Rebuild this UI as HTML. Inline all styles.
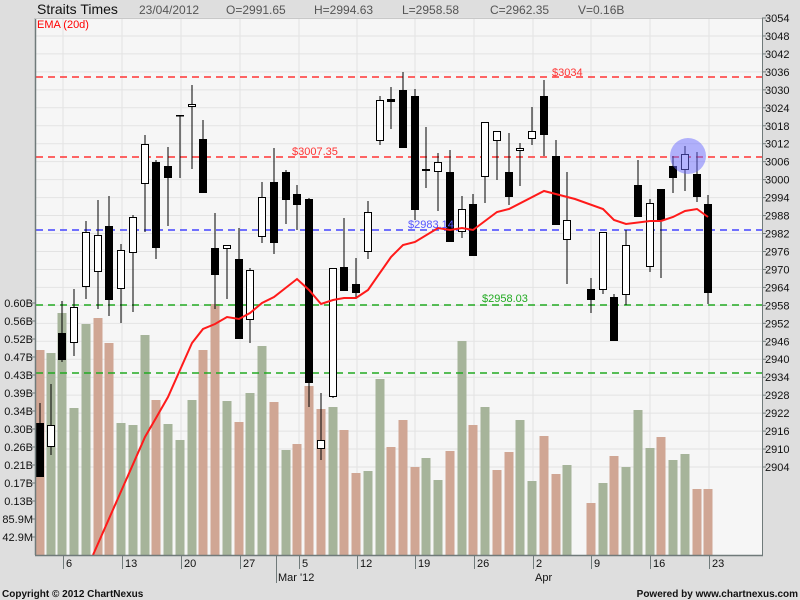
<!DOCTYPE html>
<html><head><meta charset="utf-8">
<style>
html,body{margin:0;padding:0;background:#dedede;}
svg{display:block;font-family:"Liberation Sans",sans-serif;}
</style></head><body>
<svg width="800" height="600" viewBox="0 0 800 600" xmlns="http://www.w3.org/2000/svg">
<rect x="0" y="0" width="800" height="600" fill="#dedede"/>
<rect x="35" y="18" width="727" height="537" fill="#f6f6f6"/>
<g id="grid" stroke="#e3e3e3" stroke-width="1"></g>
<g id="vol"></g>
<g id="hl"></g>
<g id="candles"></g>
<polyline id="ema" fill="none" stroke="#ff1a1a" stroke-width="2" points="93,555 145,437 156,418 168,397 192,343 203,329 215,324 227,317 239,319 250,313 262,303 274,297 297,279 309,290 321,304 333,300 344,298 356,298 368,290 391,257 403,245 415,242 438,228 450,230 462,228 473,230 497,212 509,209 544,191 575,199 603,209 614,220 626,224 650,221 661,221 673,217 685,211 697,209 708,217"/>
<circle cx="688" cy="156" r="18" fill="#6a6aff" fill-opacity="0.5"/>
<line x1="35.5" y1="18" x2="35.5" y2="555" stroke="#707a7a" stroke-width="1.5"/>
<line x1="762.5" y1="18" x2="762.5" y2="555" stroke="#707a7a" stroke-width="1"/>
<line x1="35" y1="555.5" x2="763" y2="555.5" stroke="#707a7a" stroke-width="1.5"/>
<line x1="35" y1="18.5" x2="762" y2="18.5" stroke="#c8c8c8" stroke-width="1"/>
<g id="ticks" stroke="#707a7a" stroke-width="1"></g>
<g id="labels" font-size="11" fill="#111"></g>
<text x="37" y="14" font-size="14" fill="#111">Straits Times</text>
<g font-size="12" fill="#555">
<text x="139" y="14">23/04/2012</text>
<text x="226" y="14">O=2991.65</text>
<text x="314" y="14">H=2994.63</text>
<text x="402" y="14">L=2958.58</text>
<text x="490" y="14">C=2962.35</text>
<text x="578" y="14">V=0.16B</text>
</g>
<text x="37" y="28" font-size="11" fill="#ff0000">EMA (20d)</text>
<g font-size="11">
<text x="552" y="76" fill="#ff3333">$3034</text>
<text x="292" y="155" fill="#ff3333">$3007.35</text>
<text x="408" y="228" fill="#5555ff">$2983.14</text>
<text x="482" y="302" fill="#22aa22">$2958.03</text>
</g>
<text x="2" y="597" font-size="10" font-weight="bold" fill="#111">Copyright © 2012 ChartNexus</text>
<text x="798" y="597" font-size="10" font-weight="bold" fill="#111" text-anchor="end">Powered by www.chartnexus.com</text>
</svg>
<script>
(function(){
var NS="http://www.w3.org/2000/svg";
function el(p,t,a,txt){var e=document.createElementNS(NS,t);for(var k in a)e.setAttribute(k,a[k]);if(txt!==undefined)e.textContent=txt;document.getElementById(p).appendChild(e);return e;}
// grid
for(var k=0;k<=25;k++){var y=18+k*17.96;el("grid","line",{x1:36,x2:762,y1:y,y2:y});}
[63,122,181,240,299,357,415,474,533,591,650,709].forEach(function(x){el("grid","line",{x1:x,x2:x,y1:18,y2:555});});
// volume
var G="#a6b49a",B="#d0a694";
var vol=[[40,350,B],[51,353,G],[62,313,G],[74,408,G],[86,324,G],[98,318,B],[109,343,B],[121,423,G],[133,425,G],[145,335,G],[156,400,B],[168,424,G],[180,440,G],[192,400,G],[203,350,B],[215,304,B],[227,401,G],[239,422,B],[250,393,G],[262,346,G],[274,402,B],[286,450,G],[297,444,B],[309,386,B],[321,409,B],[333,407,G],[344,430,B],[356,473,B],[368,471,G],[380,379,G],[391,447,B],[403,420,B],[415,467,B],[426,458,G],[438,480,G],[450,451,B],[462,341,G],[473,425,B],[485,407,G],[497,470,B],[509,452,B],[520,420,G],[532,481,G],[544,436,B],[556,474,B],[567,465,G],[591,503,B],[603,483,G],[614,456,B],[626,467,G],[638,410,G],[650,448,G],[661,437,B],[673,460,G],[685,454,G],[697,489,B],[708,489,B]];
vol.forEach(function(v){el("vol","rect",{x:v[0]-4.5,y:v[1],width:9,height:555-v[1],fill:v[2]});});
// horizontal lines
[[77,"#ff3333"],[157,"#ff3333"],[230,"#4444ff"],[305,"#22aa22"],[373,"#22aa22"]].forEach(function(h){el("hl","line",{x1:36,x2:762,y1:h[0],y2:h[0],stroke:h[1],"stroke-width":1.5,"stroke-dasharray":"7,5"});});
// candles [x, wickTop, wickBot, bodyTop, bodyBot, black?]
var c=[[40,403,477,423,477,1],[51,384,455,425,447,0],[62,301,362,333,360,1],[74,289,356,307,343,0],[86,221,299,232,287,0],[98,200,309,235,272,0],[109,196,316,226,300,1],[121,244,323,250,289,0],[133,215,312,217,253,0],[145,135,232,144,184,0],[156,160,259,162,248,1],[168,147,226,166,178,1],[180,115,178,115,116,1],[192,85,169,104,107,0],[203,120,193,139,193,1],[215,213,309,248,275,1],[227,245,299,245,249,0],[239,228,339,259,339,1],[250,268,343,270,320,0],[262,182,243,197,237,0],[274,148,254,182,243,1],[286,170,224,172,200,1],[297,185,230,194,205,1],[309,198,407,199,383,1],[321,393,460,440,449,0],[333,268,398,268,397,0],[344,218,291,267,291,1],[356,258,299,284,293,1],[368,201,259,212,252,0],[380,96,145,100,141,0],[391,87,129,99,102,1],[403,72,148,90,148,1],[415,89,220,96,210,1],[426,127,188,169,171,1],[438,153,211,162,172,0],[450,150,242,172,242,1],[462,196,238,209,232,0],[473,194,256,204,256,1],[485,122,203,122,177,0],[497,131,180,131,141,0],[509,133,205,172,197,1],[520,143,186,148,151,0],[532,107,145,131,139,0],[544,80,156,96,135,1],[556,140,225,156,225,1],[567,172,284,220,240,0],[591,278,313,289,300,1],[603,232,294,232,290,0],[614,294,341,297,341,1],[626,230,305,245,295,0],[638,160,217,185,217,1],[650,199,272,203,267,0],[661,189,278,189,220,1],[673,156,193,166,178,1],[685,146,191,154,170,0],[697,152,202,174,197,1],[708,195,304,204,293,1]];
c.forEach(function(d){
 el("candles","line",{x1:d[0],x2:d[0],y1:d[1],y2:d[2],stroke:"#000","stroke-width":1});
 var h=Math.max(d[4]-d[3],1.5);
 if(d[5]) el("candles","rect",{x:d[0]-4,y:d[3],width:8,height:h,fill:"#000"});
 else el("candles","rect",{x:d[0]-3.5,y:d[3]+0.5,width:7,height:Math.max(h-1,1),fill:"#fff",stroke:"#000","stroke-width":1});
});
// right axis
for(var k=0;k<=25;k++){var p=3054-6*k,y=18+k*17.96;el("labels","text",{x:765,y:y+4},String(p));el("ticks","line",{x1:762,x2:766,y1:y,y2:y});}
// left axis
var vl=["0.60B","0.56B","0.52B","0.47B","0.43B","0.39B","0.34B","0.30B","0.26B","0.21B","0.17B","0.13B","85.9M","42.9M"];
vl.forEach(function(t,i){var y=303+i*18;el("labels","text",{x:33,y:y+4,"text-anchor":"end"},t);el("ticks","line",{x1:32,x2:36,y1:y,y2:y});});
// bottom axis
var bt=[[63,"6"],[122,"13"],[181,"20"],[240,"27"],[299,"5"],[357,"12"],[415,"19"],[474,"26"],[533,"2"],[591,"9"],[650,"16"],[709,"23"]];
bt.forEach(function(b){el("ticks","line",{x1:b[0]+0.5,x2:b[0]+0.5,y1:555,y2:569});el("labels","text",{x:b[0]+3,y:567},b[1]);});
el("ticks","line",{x1:276.5,x2:276.5,y1:555,y2:583});el("labels","text",{x:278,y:581},"Mar '12");
el("labels","text",{x:535,y:581},"Apr");
})();
</script>
</body></html>
